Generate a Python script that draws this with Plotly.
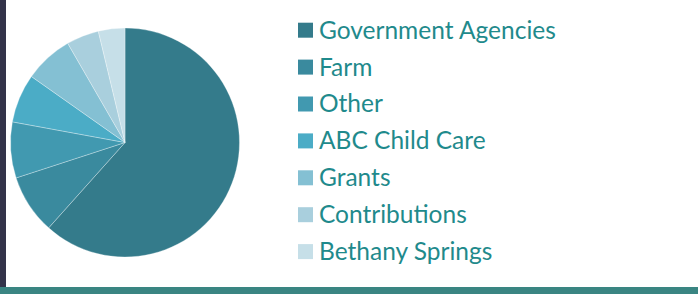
import plotly.graph_objects as go

labels = ["Government Agencies", "Farm", "Other", "ABC Child Care", "Grants", "Contributions", "Bethany Springs"]
values = [61.7, 8.4, 7.9, 6.9, 6.9, 4.6, 3.75]
colors = ["#347B8B", "#3A8A9E", "#4199B0", "#4BACC6", "#84C0D3", "#A9CFDD", "#C6DFE8"]

W, H = 698, 294

fig = go.Figure(go.Pie(
    labels=labels,
    values=values,
    sort=False,
    direction="clockwise",
    rotation=0,
    textinfo="none",
    hoverinfo="label+percent",
    showlegend=False,
    marker=dict(colors=colors, line=dict(color="rgba(255,255,255,0.5)", width=0.6)),
    domain=dict(x=[10.5 / W, 239.5 / W], y=[(H - 257) / H, (H - 28) / H]),
))

# manual legend (squares + text), built from the label/colour lists
shapes = [
    dict(type="rect", xref="paper", yref="paper", x0=0, x1=6 / W, y0=7 / H, y1=1,
         fillcolor="#33334A", line=dict(width=0), layer="below"),
    dict(type="rect", xref="paper", yref="paper", x0=0, x1=1, y0=0, y1=7 / H,
         fillcolor="#3A8582", line=dict(width=0), layer="below"),
]
annotations = []
row0, step, sq = 30.2, 36.9, 15
for i, (lab, col) in enumerate(zip(labels, colors)):
    yc = row0 + step * i
    shapes.append(dict(type="rect", xref="paper", yref="paper",
                       x0=298 / W, x1=(298 + sq) / W,
                       y0=(H - yc - sq / 2) / H, y1=(H - yc + sq / 2) / H,
                       fillcolor=col, line=dict(width=0)))
    annotations.append(dict(text=lab, xref="paper", yref="paper",
                            x=317 / W, y=(H - yc + 1) / H,
                            xanchor="left", yanchor="middle", showarrow=False,
                            font=dict(family="Lato", size=24.5, color="#1F8A8C")))

fig.update_layout(
    width=W, height=H,
    margin=dict(l=0, r=0, t=0, b=0),
    paper_bgcolor="white",
    plot_bgcolor="white",
    showlegend=False,
    shapes=shapes,
    annotations=annotations,
)

fig.write_html("out.html", config={"displayModeBar": False},
               post_script="document.body.style.margin='0';document.body.style.overflow='hidden';")
